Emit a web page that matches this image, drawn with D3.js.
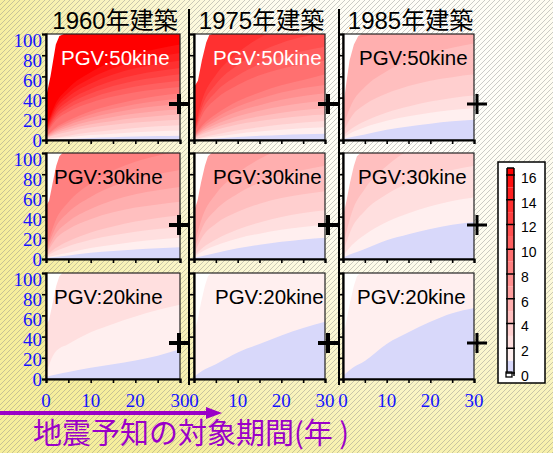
<!DOCTYPE html>
<html><head><meta charset="utf-8">
<script src="https://cdn.jsdelivr.net/npm/d3@7"></script>
<style>html,body{margin:0;padding:0;background:#fff;} svg{display:block}</style>
</head><body>
<svg id="c" width="553" height="453"></svg>
<script>
// ---------- data ----------
const buildYears = ["1960年建築", "1975年建築", "1985年建築"];
const pgvLabels = ["PGV:50kine", "PGV:30kine", "PGV:20kine"];
const yTicks = [0, 20, 40, 60, 80, 100];
const xTicks = [0, 5, 10, 15, 20, 25, 30];
const xTickLabels = [0, 10, 20, 30];
const cbTicks = [0, 2, 4, 6, 8, 10, 12, 14, 16];
const cbLevels = d3.range(0, 17);
const xYears = [0, 2, 5, 10, 15, 20, 25, 30];

// contour boundaries: [level, y at each of xYears]
const c1960_50 = [
  [1, [0, 0.4, 1, 1.9, 2.6, 3.2, 3.7, 4]],
  [2, [0.5, 1.4, 2.5, 4.6, 6, 7.3, 8.3, 9]],
  [3, [1, 2.3, 4.1, 7.2, 9.5, 11.4, 13, 14]],
  [4, [1.5, 4.7, 7.8, 11.7, 14.3, 16.4, 18, 19]],
  [5, [2, 6, 9.9, 14.8, 18, 20.7, 22.7, 24]],
  [6, [2.5, 7.3, 12, 17.9, 21.8, 25, 27.4, 29]],
  [7, [3, 8.6, 14.2, 21, 25.6, 29.4, 32.1, 34]],
  [8, [3.5, 9.9, 16.3, 24.1, 29.4, 33.7, 36.9, 39]],
  [9, [4, 11.2, 18.4, 27.2, 33.2, 38, 41.6, 44]],
  [10, [5, 17.6, 26.6, 35.2, 41, 45, 47.8, 50]],
  [11, [6, 20, 30, 39.5, 46, 50.5, 53.5, 56]],
  [12, [7, 22.4, 33.4, 43.9, 51, 56, 59.3, 62]],
  [13, [8, 24.8, 36.8, 48.2, 56, 61.4, 65, 68]],
  [14, [9, 27.5, 40.7, 53.2, 61.8, 67.7, 71.7, 75]],
  [15, [10, 30.2, 44.6, 58.2, 67.6, 74.1, 78.4, 82]],
  [16, [11, 33.1, 48.9, 63.9, 74.2, 81.3, 86, 90]]
];
const c1975_50 = [
  [1, [0, 0.6, 1.4, 2.9, 3.9, 4.8, 5.5, 6]],
  [2, [0.5, 1.7, 3.3, 6, 8, 9.7, 11.1, 12]],
  [3, [1, 2.7, 5.1, 9.2, 12, 14.6, 16.6, 18]],
  [4, [1.5, 5.6, 9.6, 14.6, 17.9, 20.6, 22.7, 24]],
  [5, [2, 7, 12.1, 18.2, 22.4, 25.8, 28.3, 30]],
  [6, [2.5, 8.7, 14.9, 22.5, 27.7, 31.8, 34.9, 37]],
  [7, [3, 10.4, 17.8, 26.8, 32.9, 37.9, 41.5, 44]],
  [8, [3.5, 12.2, 21, 31.6, 38.9, 44.7, 49.1, 52]],
  [9, [4, 14.1, 24.2, 36.5, 44.9, 51.6, 56.6, 62]],
  [10, [5, 24.6, 38.6, 51.9, 61, 67.3, 71.5, 75]],
  [11, [6, 29, 45.4, 60.9, 71.6, 79, 83.9, 88]],
  [12, [7, 33.6, 52.6, 70.7, 83, 91.6, 97.3, 102]],
  [13, [9, 39.5, 61.3, 82, 96.2, 106, 112.6, 118]]
];
const c1985_50 = [
  [1, [1, 2.8, 5.3, 9.6, 12.7, 15.4, 17.6, 19]],
  [2, [2, 7, 12.1, 18.2, 22.4, 25.8, 28.3, 30]],
  [3, [4, 10.8, 17.7, 26, 31.7, 36.3, 39.7, 42]],
  [4, [7, 22.4, 33.4, 43.9, 51, 56, 59.3, 62]],
  [5, [12, 34.1, 49.9, 64.9, 75.2, 82.3, 87, 91]]
];
const c1960_30 = [
  [1, [1, 2, 3.4, 5.8, 7.5, 9, 10.2, 11]],
  [2, [1.5, 3.4, 5.9, 10.4, 13.5, 16.3, 18.5, 20]],
  [3, [2, 7, 12.1, 18.2, 22.4, 25.8, 28.3, 30]],
  [4, [3, 9.8, 16.7, 25, 30.7, 35.3, 38.7, 41]],
  [5, [4, 18, 28, 37.5, 44, 48.5, 51.5, 54]],
  [6, [5, 22.6, 35.2, 47.2, 55.4, 61.1, 64.9, 68]],
  [7, [7, 28.6, 44, 58.6, 68.6, 75.5, 80.2, 84]],
  [8, [9, 35, 53.6, 71.3, 83.4, 91.8, 97.4, 102]]
];
const c1975_30 = [
  [1, [1, 2.9, 5.6, 10.1, 13.4, 16.2, 18.5, 20]],
  [2, [2, 7.4, 12.8, 19.4, 23.9, 27.5, 30.2, 32]],
  [3, [3, 10.7, 18.5, 27.9, 34.4, 39.6, 43.4, 46]],
  [4, [5, 21.5, 33.3, 44.5, 52.2, 57.5, 61, 64]],
  [5, [8, 30.4, 46.4, 61.6, 72, 79.2, 84, 88]],
  [6, [12, 40.8, 61.4, 81, 94.4, 103.7, 109.9, 115]]
];
const c1985_30 = [
  [1, [1.5, 4.9, 9.5, 17.6, 23.3, 28.3, 32.3, 35]],
  [2, [3, 12.9, 22.8, 34.9, 43.2, 49.8, 54.7, 58]],
  [3, [6, 29, 45.4, 61, 71.6, 79, 83.9, 88]],
  [4, [12, 43.6, 66.2, 87.7, 102.4, 112.6, 119.4, 125]]
];
const c1960_20 = [
  [1, [2, 4, 6.5, 10.5, 14, 17.5, 22, 28]],
  [2, [5, 25, 33, 44, 52, 59, 65, 70]]
];
const c1975_20 = [
  [1, [2, 8, 14, 25, 33, 41, 48, 54]]
];
const c1985_20 = [
  [1, [3, 10, 17, 33, 44, 54, 62, 67]]
];

// white (no-data) corner: [year, value] outline points
const white1960_50 = [[0, 40], [1, 60], [1.6, 75], [2.2, 90], [3, 98], [4, 100], [0, 100]];
const white1975_50 = [[0, 50], [0.9, 56], [1.8, 75], [2.8, 92], [3.5, 99], [4.2, 100], [0, 100]];
const white1985_50 = [[0, 30], [0.8, 55], [1.5, 75], [2.5, 90], [3.5, 98], [4.4, 100], [0, 100]];
const white1960_30 = [[0, 50], [0.7, 55], [1.5, 72], [2.3, 88], [3, 97], [3.7, 100], [0, 100]];
const white1975_30 = [[0, 45], [0.8, 55], [1.6, 72], [2.5, 88], [3.2, 97], [4, 100], [0, 100]];
const white1985_30 = [[0, 40], [0.8, 55], [1.6, 72], [2.5, 88], [3.2, 97], [4, 100], [0, 100]];
const white1960_20 = [[0, 50], [0.7, 56], [1.5, 72], [2.3, 88], [3, 97], [3.7, 100], [0, 100]];
const white1975_20 = [[0, 45], [0.8, 55], [1.6, 72], [2.5, 88], [3.2, 97], [4, 100], [0, 100]];
const white1985_20 = [[0, 40], [0.8, 55], [1.6, 72], [2.5, 88], [3.2, 97], [4, 100], [0, 100]];

const panelContours = [
  [c1960_50, c1975_50, c1985_50],
  [c1960_30, c1975_30, c1985_30],
  [c1960_20, c1975_20, c1985_20]
];
const panelWhite = [
  [white1960_50, white1975_50, white1985_50],
  [white1960_30, white1975_30, white1985_30],
  [white1960_20, white1975_20, white1985_20]
];

// ---------- layout ----------
const W = 553, H = 453;
const colLeft = [46, 194, 343], colW = [134, 131, 131];
const rowTop = [34, 153, 273], rowH = 106;
const labelOffset = [[15, 19, 16], [8, 19, 15], [8, 21, 14]];
const labelWhite = [[true, true, false], [false, false, false], [false, false, false]];
const plusPos = [[179, 328, 477], [104, 225, 343]];
const blueText = "#1414ff";
const purple = "#9a00c8";

const color = L => L === 0 ? "#d8d8fa" : d3.interpolateRgb("#ffffff", "#ff0000")(L / 16);

const svg = d3.select("#c");
const defs = svg.append("defs");
const rg = defs.append("radialGradient").attr("id", "bg")
  .attr("gradientUnits", "userSpaceOnUse").attr("cx", 420).attr("cy", 80).attr("r", 440);
rg.append("stop").attr("offset", 0).attr("stop-color", "#ffffff");
rg.append("stop").attr("offset", 0.4).attr("stop-color", "#fefcee");
rg.append("stop").attr("offset", 1).attr("stop-color", "#f6ee9c");
svg.append("rect").attr("width", W).attr("height", H).attr("fill", "url(#bg)");
const pat = defs.append("pattern").attr("id", "hatch").attr("patternUnits", "userSpaceOnUse")
  .attr("width", 5).attr("height", 5);
pat.append("path").attr("d", "M-1,1 L1,-1 M0,5 L5,0 M4,6 L6,4")
  .attr("stroke", "#8a8a8a").attr("stroke-width", 0.8).attr("stroke-opacity", 0.55);
svg.append("rect").attr("width", W).attr("height", H).attr("fill", "url(#hatch)");

// column separators
[189, 339].forEach(xx => {
  svg.append("line").attr("x1", xx).attr("x2", xx).attr("y1", 9).attr("y2", 385)
    .attr("stroke", "#000").attr("stroke-width", 2);
});

// titles
buildYears.forEach((t, c) => {
  svg.append("text").attr("x", colLeft[c] + colW[c] / 2 + 2).attr("y", 29)
    .attr("text-anchor", "middle").attr("font-family", "'Liberation Sans','Noto Sans CJK JP',sans-serif")
    .attr("font-size", 24).attr("fill", "#000").text(t);
});

for (let r = 0; r < 3; r++) {
  for (let c = 0; c < 3; c++) {
    const L = colLeft[c], Wd = colW[c], T = rowTop[r];
    const x = d3.scaleLinear().domain([0, 30]).range([L, L + Wd]);
    const y = d3.scaleLinear().domain([0, 100]).range([T + rowH, T]);
    const id = `clip${r}${c}`;
    defs.append("clipPath").attr("id", id).append("rect")
      .attr("x", L).attr("y", T).attr("width", Wd).attr("height", rowH);
    const g = svg.append("g").attr("clip-path", `url(#${id})`);
    g.append("rect").attr("x", L).attr("y", T).attr("width", Wd).attr("height", rowH).attr("fill", color(0));
    const area = d3.area().x(d => x(d[0])).y0(T - 5).y1(d => y(Math.min(d[1], 110)))
      .curve(d3.curveMonotoneX);
    panelContours[r][c].forEach(([lev, ys]) => {
      const pts = xYears.map((xv, i) => [xv, ys[i]]);
      g.append("path").attr("d", area(pts)).attr("fill", color(lev));
    });
    const wl = d3.line().x(d => x(d[0])).y(d => y(d[1])).curve(d3.curveLinearClosed);
    g.append("path").attr("d", wl(panelWhite[r][c])).attr("fill", "#fff");

    // frame
    svg.append("rect").attr("x", L).attr("y", T).attr("width", Wd).attr("height", rowH)
      .attr("fill", "none").attr("stroke", "#222").attr("stroke-width", 1.2);
    const ax = svg.append("g").attr("transform", `translate(0,${T + rowH})`)
      .call(d3.axisBottom(x).tickValues(xTicks).tickSize(4).tickFormat(""));
    const ay = svg.append("g").attr("transform", `translate(${L},0)`)
      .call(d3.axisLeft(y).tickValues(yTicks).tickSize(4).tickFormat(""));
    [ax, ay].forEach(a => {
      a.select(".domain").attr("stroke", "#000").attr("stroke-width", 2.2);
      a.selectAll(".tick line").attr("stroke", "#000").attr("stroke-width", 1.6);
    });

    // label
    svg.append("text").attr("x", L + labelOffset[r][c]).attr("y", T + 31)
      .attr("font-family", "'Liberation Sans',Arial,sans-serif").attr("font-size", 20.5)
      .attr("fill", labelWhite[r][c] ? "#fff" : "#000").text(pgvLabels[r]);

    // plus marker
    const px = plusPos[0][c], py = plusPos[1][r];
    svg.append("path").attr("d", `M${px - 10},${py} H${px + 10} M${px},${py - 10} V${py + 10}`)
      .attr("stroke", "#000").attr("stroke-width", c === 2 ? 3 : 4);

    // y tick labels
    if (c === 0) {
      yTicks.forEach(v => {
        svg.append("text").attr("x", 42).attr("y", y(v * 0.94)).attr("dy", "0.35em")
          .attr("text-anchor", "end").attr("font-family", "'Liberation Serif','Times New Roman',serif")
          .attr("font-size", 19).attr("fill", blueText).text(v);
      });
    }
    if (r === 2) {
      xTickLabels.forEach(v => {
        svg.append("text").attr("x", x(v)).attr("y", 400).attr("dy", "0.35em")
          .attr("text-anchor", "middle").attr("font-family", "'Liberation Serif','Times New Roman',serif")
          .attr("font-size", 19).attr("fill", blueText).text(v);
      });
    }
  }
}

// colorbar
const cb = svg.append("g");
cb.append("rect").attr("x", 498).attr("y", 162).attr("width", 47).attr("height", 221)
  .attr("fill", "#fff").attr("stroke", "#000").attr("stroke-width", 1.5);
const cy = d3.scaleLinear().domain([0, 16]).range([373, 175]);
cbLevels.forEach(l => {
  const top = l === 16 ? 168 : cy(l + 1);
  cb.append("rect").attr("x", 507).attr("y", top).attr("width", 7).attr("height", cy(l) - top)
    .attr("fill", color(l));
});
cb.append("line").attr("x1", 507).attr("x2", 507).attr("y1", 168).attr("y2", 376).attr("stroke", "#000").attr("stroke-width", 1.5);
cb.append("line").attr("x1", 514).attr("x2", 514).attr("y1", 168).attr("y2", 376).attr("stroke", "#000").attr("stroke-width", 1.5);
cb.append("line").attr("x1", 507).attr("x2", 514).attr("y1", 168).attr("y2", 168).attr("stroke", "#000").attr("stroke-width", 1.5);
cb.append("rect").attr("x", 506).attr("y", 372).attr("width", 6).attr("height", 5)
  .attr("fill", "#fff").attr("stroke", "#000").attr("stroke-width", 1.3);
cbTicks.forEach(v => {
  cb.append("line").attr("x1", 506).attr("x2", 515).attr("y1", cy(v)).attr("y2", cy(v))
    .attr("stroke", "#000").attr("stroke-width", 1.5);
  cb.append("text").attr("x", 521).attr("y", cy(v) + 3).attr("dy", "0.35em")
    .attr("font-family", "'Liberation Sans',Arial,sans-serif").attr("font-size", 14)
    .attr("fill", "#000").text(v);
});

// arrow + axis title
svg.append("line").attr("x1", 0).attr("x2", 208).attr("y1", 413).attr("y2", 413)
  .attr("stroke", purple).attr("stroke-width", 4);
svg.append("path").attr("d", "M206,407 L222,413 L206,419 Z").attr("fill", purple);
svg.append("text").attr("x", 33).attr("y", 444)
  .attr("font-family", "'Noto Sans CJK JP',sans-serif").attr("font-size", 29)
  .attr("fill", purple).text("地震予知の対象期間(年 )");
</script>
</body></html>
